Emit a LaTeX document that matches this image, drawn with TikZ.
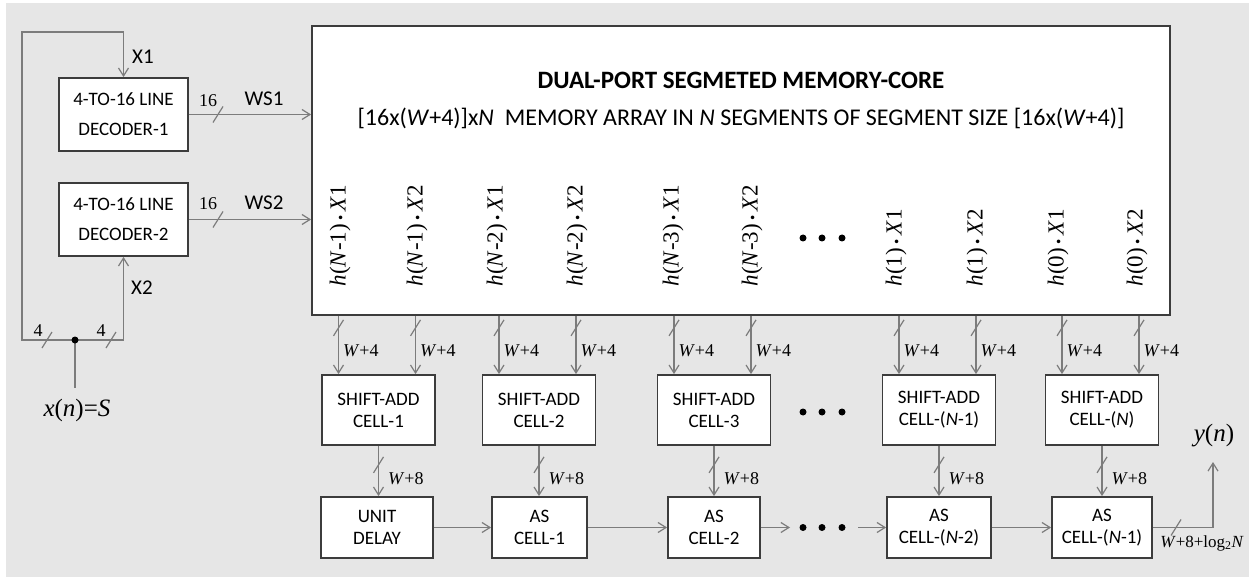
\documentclass[tikz,border=0pt]{standalone}
\usepackage{fontspec}
\setmainfont{Carlito}
\newfontfamily\tnr{Liberation Serif}
\usetikzlibrary{calc, arrows.meta}
\definecolor{bggray}{HTML}{E6E6E6}
\definecolor{wiregray}{HTML}{7C7C7C}
\definecolor{boxgray}{HTML}{3C3C3C}
% bus width mark across a wire
\newcommand{\busmark}[1]{\draw[wire] (#1) ++(-5,8) -- ++(10,-16);}
\newcommand{\pdot}{\,{\fontsize{15}{15}\selectfont•}\,}

\begin{document}
\begin{tikzpicture}[x=1pt, y=-1pt,
  blk/.style={draw=boxgray, line width=1.8pt, fill=white, align=center,
    font=\fontsize{19}{22}\selectfont, inner sep=0pt},
  wire/.style={draw=wiregray, line width=1.2pt},
  arr/.style={wire, -{Straight Barb[length=8pt,width=10pt]}},
  nlbl/.style={font=\tnr\fontsize{18}{20}\selectfont},
  slbl/.style={font=\fontsize{21}{23}\selectfont},
  coef/.style={font=\tnr\fontsize{23}{25}\selectfont, rotate=90, anchor=west}]
  \useasboundingbox (0,0) rectangle (1249,577);
  \fill[bggray] (6,3) rectangle (1249,577);

  % address decoders
  \node[blk, minimum width=129pt, minimum height=73pt, font=\fontsize{19}{30}\selectfont] (dec1) at (123.5,114.5) {4-TO-16 LINE\\DECODER-1};
  \node[blk, minimum width=129pt, minimum height=73pt, font=\fontsize{19}{30}\selectfont] (dec2) at (123.5,219.5) {4-TO-16 LINE\\DECODER-2};

  % memory core
  \node[blk, minimum width=858pt, minimum height=289pt] (mem) at (741,170.5) {};
  \node[font=\bfseries\fontsize{25}{27}\selectfont] (title) at (741,80) {DUAL-PORT SEGMETED MEMORY-CORE};
  \node[font=\fontsize{24}{26}\selectfont] (sub) at (741,118) {[16x(\textit{W}+4)]x\textit{N}\ \ MEMORY ARRAY IN \textit{N} SEGMENTS OF SEGMENT SIZE [16x(\textit{W}+4)]};
  \foreach \xc/\arg/\port [count=\i] in {340/{\textit{N}-1}/1, 417/{\textit{N}-1}/2, 497/{\textit{N}-2}/1, 577/{\textit{N}-2}/2,
      673/{\textit{N}-3}/1, 752/{\textit{N}-3}/2, 896/1/1, 977/1/2, 1058/0/1, 1137/0/2}
    \node[coef] (c\i) at (\xc,290) {\textit{h}(\arg)\pdot\textit{X}\port};
  \foreach \xd in {803,822,842}
    \fill (\xd,238) circle (3.5);

  % shift-add cells
  \node[blk, minimum width=113pt, minimum height=70pt] (sa1) at (378.5,410) {SHIFT-ADD\\CELL-1};
  \node[blk, minimum width=113pt, minimum height=70pt] (sa2) at (539,410) {SHIFT-ADD\\CELL-2};
  \node[blk, minimum width=113pt, minimum height=70pt] (sa3) at (714,410) {SHIFT-ADD\\CELL-3};
  \node[blk, minimum width=113pt, minimum height=70pt] (sa4) at (939,410) {SHIFT-ADD\\CELL-(\textit{N}-1)};
  \node[blk, minimum width=113pt, minimum height=70pt] (sa5) at (1102,410) {SHIFT-ADD\\CELL-(\textit{N})};
  \foreach \xd in {803,822,842}
    \fill (\xd,412) circle (3.5);

  % adder chain
  \node[blk, minimum width=112pt, minimum height=61pt] (ud) at (377,527.5) {UNIT\\DELAY};
  \node[blk, minimum width=95pt, minimum height=61pt] (as1) at (539.5,527.5) {AS\\CELL-1};
  \node[blk, minimum width=92pt, minimum height=61pt] (as2) at (714,527.5) {AS\\CELL-2};
  \node[blk, minimum width=104pt, minimum height=61pt] (as3) at (939,527.5) {AS\\CELL-(\textit{N}-2)};
  \node[blk, minimum width=100pt, minimum height=61pt] (as4) at (1102,527.5) {AS\\CELL-(\textit{N}-1)};

  % memory outputs, W+4 bits each
  \foreach \n in {sa1,sa2,sa3,sa4,sa5} {
    \coordinate (\n a) at ($(\n.north)+(-40,0)$);
    \coordinate (\n b) at ($(\n.north)+(37,0)$);
    \draw[arr] (\n a |- mem.south) -- (\n a);
    \draw[arr] (\n b |- mem.south) -- (\n b);
    \busmark{$(\n a |- mem.south)+(0,12)$}
    \busmark{$(\n b |- mem.south)+(0,12)$}
    \node[nlbl, anchor=west] (w\n a) at ($(\n a |- mem.south)+(1,35)$) {\textit{W}+4};
    \node[nlbl, anchor=west] (w\n b) at ($(\n b |- mem.south)+(1,35)$) {\textit{W}+4};
  }

  % shift-add outputs, W+8 bits
  \foreach \n/\m in {sa1/ud, sa2/as1, sa3/as2, sa4/as3, sa5/as4} {
    \draw[arr] (\n.south) -- (\n.south |- \m.north);
    \busmark{$(\n.south)+(0,19)$}
    \node[nlbl, anchor=west] (v\n) at ($(\n.south)+(6,33)$) {\textit{W}+8};
  }

  \draw[arr] (ud) -- (as1);
  \draw[arr] (as1) -- (as2);
  \coordinate (gap1) at (790,527.5);
  \coordinate (gap2) at (858,527.5);
  \draw[arr] (as2) -- (gap1);
  \draw[arr] (gap2) -- (as3);
  \draw[arr] (as3) -- (as4);
  \foreach \xd in {803,822,842}
    \fill (\xd,527.5) circle (3.5);

  % output y(n)
  \coordinate (out) at (1213,462);
  \draw[arr] (as4.east) -| (out);
  \busmark{1176,527.5}
  \node[font=\tnr\fontsize{25}{27}\selectfont] (yn) at (1214,436) {\textit{y}(\textit{n})};
  \node[font=\tnr\fontsize{17}{19}\selectfont] (wout) at (1202,543) {\textit{W}+8+log\textsubscript{2}\textit{N}};

  % decoder outputs
  \draw[arr] (dec1.east) -- (dec1.east -| mem.west);
  \draw[arr] (dec2.east) -- (dec2.east -| mem.west);
  \busmark{218,114.5}
  \busmark{218,219.5}
  \node[nlbl] (n16a) at (208,101) {16};
  \node[nlbl] (n16b) at (208,204) {16};
  \node[slbl] (ws1) at (264,99) {WS1};
  \node[slbl] (ws2) at (264,203) {WS2};

  % input x(n) split into two nibbles
  \coordinate (jn) at (75,340);
  \coordinate (in) at (75,388);
  \coordinate (lft) at (22,32);
  \draw[arr] (jn) -| (lft) -| (dec1.north);
  \draw[arr] (jn) -| (dec2.south);
  \draw[wire] (jn) -- (in);
  \fill (jn) circle (3.5);
  \busmark{47,340}
  \busmark{111,340}
  \node[nlbl] (n4a) at (38,331) {4};
  \node[nlbl] (n4b) at (101,331) {4};
  \node[slbl] (x1) at (143,57) {X1};
  \node[slbl] (x2) at (142,288) {X2};
  \node[font=\tnr\fontsize{25}{27}\selectfont] (xn) at (77,410) {\textit{x}(\textit{n})=\textit{S}};
\end{tikzpicture}
\end{document}
